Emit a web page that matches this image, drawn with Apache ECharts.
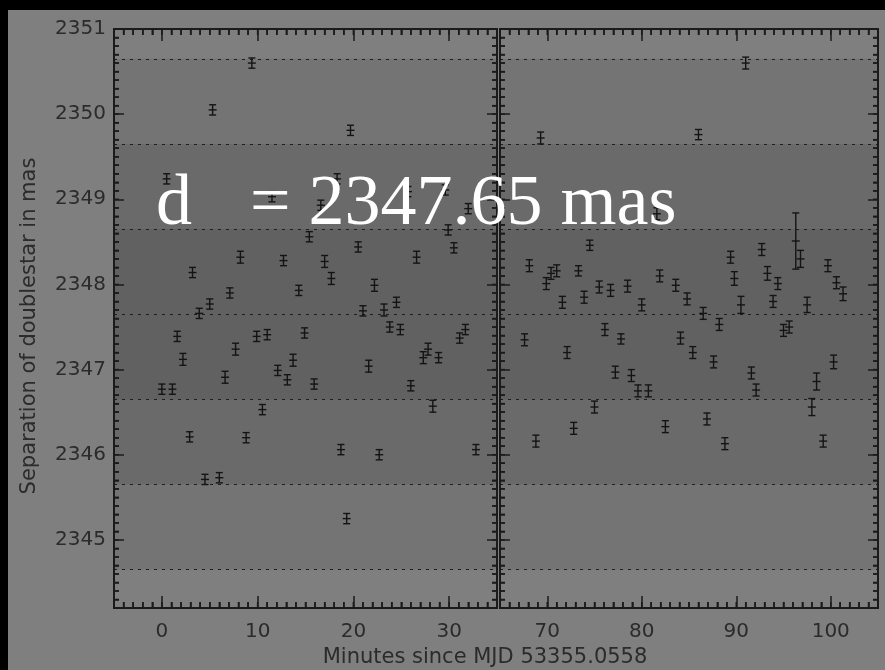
<!DOCTYPE html>
<html>
<head>
<meta charset="utf-8">
<script src="https://cdn.jsdelivr.net/npm/echarts@6/dist/echarts.min.js"></script>
<style>
  html, body { margin: 0; padding: 0; background: #000; }
  #chart { position: absolute; left: 8px; top: 10px; width: 877px; height: 660px; }
</style>
</head>
<body>
<div id="chart"></div>
<script>
// Separation measurements of the double star, first block (minutes since MJD 53355.0558)
const leftTime = [0.0, 0.5, 1.1, 1.6, 2.2, 2.9, 3.2, 3.9, 4.5, 5.0, 5.3, 6.0, 6.6, 7.1, 7.7, 8.2, 8.8, 9.4, 9.9, 10.5,
  11.0, 11.5, 12.1, 12.7, 13.1, 13.7, 14.3, 14.9, 15.4, 15.9, 16.6, 17.0, 17.7, 18.3, 18.7, 19.3, 19.7, 20.5, 21.0, 21.6,
  22.2, 22.7, 23.2, 23.8, 24.5, 24.9, 25.7, 26.0, 26.6, 27.3, 27.8, 28.3, 28.9, 29.6, 29.9, 30.5, 31.1, 31.7, 32.0, 32.8];
const leftSep = [2346.77, 2349.24, 2346.77, 2347.39, 2347.12, 2346.21, 2348.14, 2347.66, 2345.71, 2347.77, 2350.05, 2345.73,
  2346.91, 2347.90, 2347.24, 2348.32, 2346.20, 2350.60, 2347.39, 2346.53, 2347.41, 2349.03, 2346.99, 2348.28, 2346.88,
  2347.11, 2347.93, 2347.43, 2348.56, 2346.83, 2348.93, 2348.27, 2348.07, 2349.24, 2346.06, 2345.25, 2349.81, 2348.44,
  2347.69, 2347.04, 2347.99, 2346.00, 2347.70, 2347.50, 2347.79, 2347.47, 2349.09, 2346.81, 2348.32, 2347.14, 2347.24,
  2346.57, 2347.14, 2349.11, 2348.64, 2348.43, 2347.37, 2347.47, 2348.89, 2346.06];
const leftErr = [0.06, 0.06, 0.06, 0.06, 0.07, 0.06, 0.06, 0.06, 0.06, 0.06, 0.06, 0.06, 0.07, 0.06, 0.07, 0.07, 0.06, 0.06, 0.06, 0.06,
  0.06, 0.06, 0.06, 0.06, 0.06, 0.07, 0.06, 0.06, 0.06, 0.06, 0.06, 0.07, 0.07, 0.06, 0.06, 0.06, 0.06, 0.06, 0.06, 0.07,
  0.07, 0.06, 0.07, 0.06, 0.06, 0.06, 0.06, 0.06, 0.07, 0.07, 0.07, 0.07, 0.06, 0.06, 0.06, 0.06, 0.06, 0.06, 0.06, 0.06];

// Second block
const rightTime = [67.6, 68.1, 68.8, 69.3, 69.9, 70.4, 71.0, 71.6, 72.1, 72.8, 73.3, 73.9, 74.5, 75.0, 75.5, 76.1, 76.7, 77.2,
  77.8, 78.5, 78.9, 79.6, 80.0, 80.7, 81.6, 81.9, 82.5, 83.6, 84.1, 84.8, 85.4, 86.0, 86.5, 86.9, 87.6, 88.2, 88.8, 89.4,
  89.8, 90.5, 91.0, 91.6, 92.1, 92.7, 93.3, 93.9, 94.4, 95.0, 95.6, 96.3, 96.8, 97.5, 98.0, 98.5, 99.2, 99.7, 100.3, 100.6, 101.3];
const rightSep = [2347.35, 2348.22, 2346.16, 2349.72, 2348.01, 2348.13, 2348.16, 2347.79, 2347.20, 2346.31, 2348.16, 2347.85,
  2348.46, 2346.56, 2347.97, 2347.47, 2347.93, 2346.97, 2347.36, 2347.98, 2346.93, 2346.75, 2347.76, 2346.75, 2348.83,
  2348.10, 2346.33, 2347.99, 2347.37, 2347.83, 2347.20, 2349.76, 2347.66, 2346.42, 2347.09, 2347.53, 2346.13, 2348.32,
  2348.07, 2347.76, 2350.60, 2346.96, 2346.76, 2348.41, 2348.13, 2347.80, 2348.01, 2347.46, 2347.50, 2348.51, 2348.30,
  2347.76, 2346.56, 2346.86, 2346.16, 2348.22, 2347.09, 2348.02, 2347.89];
const rightErr = [0.07, 0.07, 0.07, 0.07, 0.07, 0.07, 0.07, 0.07, 0.07, 0.07, 0.06, 0.07, 0.06, 0.07, 0.07, 0.07, 0.07, 0.07,
  0.06, 0.07, 0.07, 0.07, 0.07, 0.07, 0.07, 0.07, 0.07, 0.07, 0.07, 0.07, 0.07, 0.06, 0.07, 0.07, 0.07, 0.07, 0.07, 0.07,
  0.08, 0.10, 0.07, 0.07, 0.07, 0.07, 0.08, 0.07, 0.07, 0.07, 0.07, 0.33, 0.10, 0.09, 0.10, 0.10, 0.07, 0.07, 0.08, 0.07, 0.08];

// Axis ticks and reference level
const yMajorTicks = [2345, 2346, 2347, 2348, 2349, 2350, 2351];
const leftMajorTicks = [0, 10, 20, 30];
const rightMajorTicks = [70, 80, 90, 100];
const meanSep = 2347.65;
const sigmaSteps = [-3, -2, -1, 0, 1, 2, 3];

const yRange = [2344.2, 2351];
const leftRange = [-5, 35];
const rightRange = [65, 105];
const yMinorStep = 0.1;
const xMinorStep = 1;

const INK = '#1b1b1b';
const LABEL = '#2b2b2b';
const tickFont = { fontFamily: 'DejaVu Sans', fontSize: 20, color: LABEL };

function stepValues(lo, hi, step) {
  const out = [];
  const n = Math.round((hi - lo) / step);
  for (let i = 0; i <= n; i++) out.push(Math.round((lo + i * step) * 1000) / 1000);
  return out;
}

const panelRects = [
  { left: 106, top: 19, width: 383, height: 579 },
  { left: 492, top: 19, width: 378, height: 579 }
];
// Grids 0,1 carry data and major ticks; grids 2,3 overlay them with the minor tick axes
const grids = panelRects.concat(panelRects.map(r => Object.assign({}, r)));

function majorAxis(gridIndex, position, range, majors, len, showLabels, labelMargin) {
  return {
    type: 'value', gridIndex, position, min: range[0], max: range[1], z: 10,
    splitLine: { show: false },
    axisLine: { show: true, onZero: false, lineStyle: { color: INK, width: 1.8 } },
    axisTick: { show: true, inside: true, length: len, customValues: majors, lineStyle: { color: INK, width: 1.5 } },
    axisLabel: showLabels
      ? Object.assign({ show: true, customValues: majors, margin: labelMargin, formatter: v => String(v) }, tickFont)
      : { show: false }
  };
}

function minorAxis(gridIndex, position, range, step, len) {
  return {
    type: 'value', gridIndex, position, min: range[0], max: range[1], interval: step, z: 10,
    splitLine: { show: false },
    axisLine: { show: true, onZero: false, lineStyle: { color: INK, width: 1.8 } },
    axisTick: { show: true, inside: true, length: len, lineStyle: { color: INK, width: 1.5 } },
    axisLabel: { show: false }
  };
}

const xRanges = [leftRange, rightRange];
const xMajors = [leftMajorTicks, rightMajorTicks];
const xAxes = [];
const yAxes = [];
for (let g = 0; g < 2; g++) {
  xAxes.push(majorAxis(g, 'bottom', xRanges[g], xMajors[g], 12, true, 14));
  xAxes.push(majorAxis(g, 'top', xRanges[g], xMajors[g], 12, false, 0));
  yAxes.push(majorAxis(g, 'left', yRange, yMajorTicks, 10, g === 0, 8));
  yAxes.push(majorAxis(g, 'right', yRange, yMajorTicks, 10, false, 0));
}
for (let g = 0; g < 2; g++) {
  xAxes.push(minorAxis(g + 2, 'bottom', xRanges[g], xMinorStep, 6));
  xAxes.push(minorAxis(g + 2, 'top', xRanges[g], xMinorStep, 6));
  yAxes.push(minorAxis(g + 2, 'left', yRange, yMinorStep, 5));
  yAxes.push(minorAxis(g + 2, 'right', yRange, yMinorStep, 5));
}

// Minor tick comb along the four frame edges, positioned through each panel's scales
function tickComb(g) {
  const xr = xRanges[g];
  const xs = stepValues(xr[0], xr[1], xMinorStep);
  const ys = stepValues(yRange[0], yRange[1], yMinorStep);
  return {
    type: 'custom', xAxisIndex: g * 2, yAxisIndex: g * 2, z: 6, silent: true, clip: false,
    data: [[xr[0], yRange[0]]],
    renderItem: function (params, api) {
      const kids = [];
      const style = { stroke: INK, lineWidth: 1.5, fill: null };
      xs.forEach(x => {
        const b = api.coord([x, yRange[0]]), t = api.coord([x, yRange[1]]);
        kids.push({ type: 'line', shape: { x1: b[0], y1: b[1], x2: b[0], y2: b[1] - 6 }, style });
        kids.push({ type: 'line', shape: { x1: t[0], y1: t[1], x2: t[0], y2: t[1] + 6 }, style });
      });
      ys.forEach(y => {
        const l = api.coord([xr[0], y]), r = api.coord([xr[1], y]);
        kids.push({ type: 'line', shape: { x1: l[0], y1: l[1], x2: l[0] + 5, y2: l[1] }, style });
        kids.push({ type: 'line', shape: { x1: r[0], y1: r[1], x2: r[0] - 5, y2: r[1] }, style });
      });
      return { type: 'group', children: kids };
    }
  };
}

// Error bar glyph: vertical bar with end caps and a tick at the measured value
function renderErrorBar(params, api) {
  const t = api.value(0), v = api.value(1), e = api.value(2);
  const top = api.coord([t, v + e]);
  const bot = api.coord([t, v - e]);
  const mid = api.coord([t, v]);
  const cap = 3.5, dash = 4;
  const style = { stroke: '#141414', lineWidth: 1.4, fill: null };
  return {
    type: 'group',
    children: [
      { type: 'line', shape: { x1: top[0], y1: top[1], x2: bot[0], y2: bot[1] }, style },
      { type: 'line', shape: { x1: top[0] - cap, y1: top[1], x2: top[0] + cap, y2: top[1] }, style },
      { type: 'line', shape: { x1: bot[0] - cap, y1: bot[1], x2: bot[0] + cap, y2: bot[1] }, style },
      { type: 'line', shape: { x1: mid[0] - dash, y1: mid[1], x2: mid[0] + dash, y2: mid[1] }, style }
    ]
  };
}

const bandColors = { 3: '#747474', 2: '#6a6a6a', 1: '#616161' };

function bandSeries(g) {
  return {
    type: 'line', data: [], xAxisIndex: g * 2, yAxisIndex: g * 2, z: 1, silent: true,
    markArea: {
      silent: true,
      data: [3, 2, 1].map(k => [
        { yAxis: meanSep - k, itemStyle: { color: bandColors[k] } },
        { yAxis: meanSep + k }
      ])
    },
    markLine: {
      silent: true, symbol: 'none', animation: false,
      label: { show: false },
      lineStyle: { color: '#1e1e1e', type: [3, 5], width: 1.1 },
      data: sigmaSteps.map(k => ({ yAxis: Math.round((meanSep + k) * 100) / 100 }))
    }
  };
}

function pointSeries(g, times, seps, errs) {
  return {
    type: 'custom', xAxisIndex: g * 2, yAxisIndex: g * 2, z: 5, silent: true,
    renderItem: renderErrorBar,
    encode: { x: 0, y: 1 },
    data: times.map((t, i) => [t, seps[i], errs[i]])
  };
}

const chart = echarts.init(document.getElementById('chart'), null, { renderer: 'canvas' });
chart.setOption({
  animation: false,
  backgroundColor: '#7f7f7f',
  grid: grids,
  xAxis: xAxes,
  yAxis: yAxes,
  series: [
    bandSeries(0), bandSeries(1),
    pointSeries(0, leftTime, leftSep, leftErr),
    pointSeries(1, rightTime, rightSep, rightErr),
    tickComb(0), tickComb(1)
  ],
  graphic: [
    {
      type: 'text', x: 22, y: 316, rotation: Math.PI / 2, z: 10,
      style: { text: 'Separation of doublestar in mas', font: '21px "DejaVu Sans"', fill: LABEL,
               textAlign: 'center', textVerticalAlign: 'middle' }
    },
    {
      type: 'text', x: 477, y: 648, z: 10,
      style: { text: 'Minutes since MJD 53355.0558', font: '21px "DejaVu Sans"', fill: LABEL,
               textAlign: 'center', textVerticalAlign: 'middle' }
    },
    {
      type: 'text', x: 148, y: 195, z: 20,
      style: { text: 'd', font: '72px "Liberation Serif"', fill: '#ffffff',
               textAlign: 'left', textVerticalAlign: 'middle' }
    },
    {
      type: 'text', x: 242, y: 195, z: 20,
      style: { text: '= 2347.65 mas', font: '72px "Liberation Serif"', fill: '#ffffff',
               textAlign: 'left', textVerticalAlign: 'middle' }
    }
  ]
});
</script>
</body>
</html>
